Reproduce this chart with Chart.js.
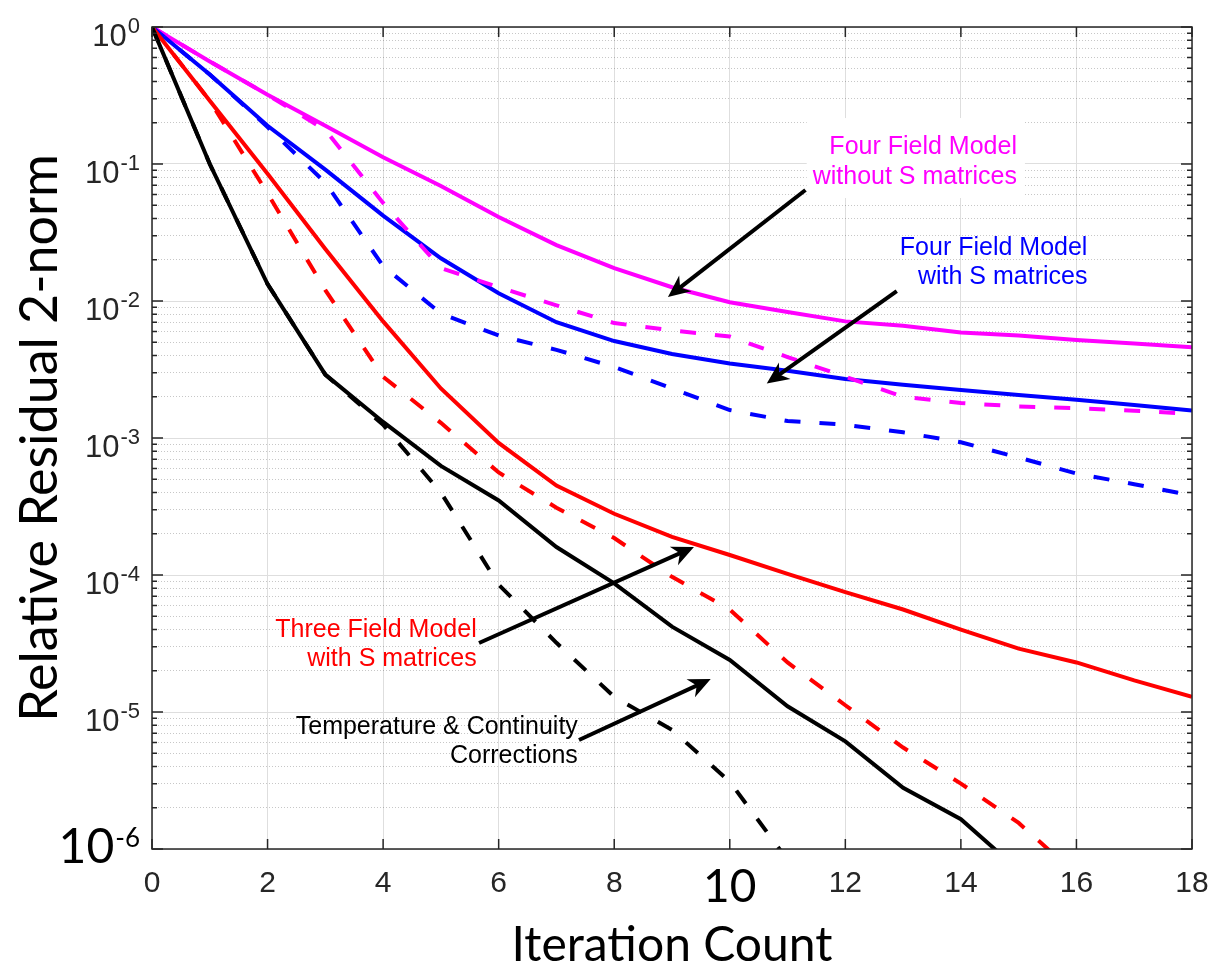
<!DOCTYPE html>
<html lang="en">
<head>
<meta charset="UTF-8">
<title>Relative Residual 2-norm vs Iteration Count</title>
<script src="https://cdn.jsdelivr.net/npm/chart.js"></script>
<style>
  html, body { margin: 0; padding: 0; background: #fff; }
</style>
</head>
<body>
<canvas id="residualChart" width="1222" height="970"></canvas>
<script>
// iteration axis
const iterations = [0, 1, 2, 3, 4, 5, 6, 7, 8, 9, 10, 11, 12, 13, 14, 15, 16, 17, 18];

// Four Field Model without S matrices (magenta)
const fourNoS       = [1, 0.56, 0.32, 0.19, 0.112, 0.069, 0.041, 0.0256, 0.0174, 0.0126, 0.0098, 0.0083, 0.0071, 0.0066, 0.0059, 0.0056, 0.0052, 0.0049, 0.0046];
const fourNoSDashed = [1, 0.56, 0.32, 0.177, 0.052, 0.0174, 0.0126, 0.0093, 0.0069, 0.0061, 0.0055, 0.0039, 0.0028, 0.0020, 0.0018, 0.0017, 0.00165, 0.00158, 0.0015];

// Four Field Model with S matrices (blue)
const fourS         = [1, 0.45, 0.19, 0.091, 0.042, 0.0205, 0.0114, 0.0070, 0.0051, 0.0041, 0.0035, 0.0031, 0.0027, 0.00245, 0.00224, 0.00206, 0.0019, 0.00174, 0.00159];
const fourSDashed   = [1, 0.45, 0.186, 0.073, 0.018, 0.0081, 0.0056, 0.0044, 0.0033, 0.0023, 0.0016, 0.00133, 0.00125, 0.0011, 0.00093, 0.00072, 0.00055, 0.00046, 0.00038];

// Three Field Model with S matrices (red)
const threeS        = [1, 0.29, 0.085, 0.024, 0.0071, 0.0023, 0.00092, 0.00045, 0.00028, 0.00019, 0.00014, 0.000102, 0.000075, 0.000056, 0.00004, 0.000029, 0.000023, 0.000017, 0.0000129];
const threeSDashed  = [1, 0.29, 0.061, 0.012, 0.0028, 0.00129, 0.00056, 0.00031, 0.000186, 0.000097, 0.000056, 0.000023, 0.0000112, 0.0000055, 0.000003, 0.00000155, 0.00000065, null, null];

// Temperature & Continuity Corrections (black)
const tempCont       = [1, 0.1, 0.0133, 0.0029, 0.00131, 0.000625, 0.00035, 0.00016, 0.000087, 0.000042, 0.000024, 0.000011, 0.0000061, 0.0000028, 0.00000165, 0.0000007, null, null, null];
const tempContDashed = [1, 0.1, 0.0133, 0.0029, 0.00125, 0.0004, 0.000085, 0.000032, 0.0000129, 0.0000074, 0.0000031, 0.00000083, null, null, null, null, null, null, null];

// axis ticks
const decadeTicks = [1, 1e-1, 1e-2, 1e-3, 1e-4, 1e-5, 1e-6];
const decadeExponents = ['0', '-1', '-2', '-3', '-4', '-5', '-6'];
const minorMultipliers = [2, 3, 4, 5, 6, 7, 8, 9];
const xTicks = [0, 2, 4, 6, 8, 10, 12, 14, 16, 18];
const xBigTick = 10;   // this label is set larger in the source figure

const minorTicks = [];
decadeTicks.slice(1).forEach(d => minorMultipliers.forEach(m => minorTicks.push(m * d)));

// text labels and arrows, in data coordinates
const notes = [
  { lines: ['Four Field Model', 'without S matrices'], color: '#ff00ff', x: 14.97, y: [0.133, 0.0804], backing: true },
  { lines: ['Four Field Model', 'with S matrices'], color: '#0000ff', x: 16.19, y: [0.0244, 0.015] },
  { lines: ['Three Field Model', 'with S matrices'], color: '#ff0000', x: 5.62, y: [3.97e-5, 2.44e-5] },
  { lines: ['Temperature & Continuity', 'Corrections'], color: '#000000', x: 7.37, y: [7.78e-6, 4.78e-6] }
];
const arrows = [
  { from: [11.31, 0.0646], to: [8.93, 0.0107] },
  { from: [12.89, 0.0118], to: [10.64, 0.0025] },
  { from: [5.66, 3.19e-5], to: [9.38, 1.6e-4] },
  { from: [7.39, 6.25e-6], to: [9.67, 1.74e-5] }
];

function series(label, values, color, dashed) {
  return {
    label: label,
    data: iterations.map((t, i) => ({ x: t, y: values[i] })),
    borderColor: color,
    borderWidth: 4,
    borderDash: dashed ? [16, 19] : [],
    pointRadius: 0,
    fill: false,
    tension: 0
  };
}

const axisColor = '#262626';
const noteFont = '25px "Liberation Sans", Arial, sans-serif';

function drawArrow(ctx, x0, y0, x1, y1) {
  const ang = Math.atan2(y1 - y0, x1 - x0);
  const c = Math.cos(ang), s = Math.sin(ang);
  const headLen = 22, headW = 10;
  ctx.beginPath();
  ctx.moveTo(x0, y0);
  ctx.lineTo(x1 - headLen * 0.6 * c, y1 - headLen * 0.6 * s);
  ctx.stroke();
  const bx = x1 - headLen * c, by = y1 - headLen * s;
  ctx.beginPath();
  ctx.moveTo(x1, y1);
  ctx.lineTo(bx - s * headW, by + c * headW);
  ctx.lineTo(x1 - headLen * 0.7 * c, y1 - headLen * 0.7 * s);
  ctx.lineTo(bx + s * headW, by - c * headW);
  ctx.closePath();
  ctx.fill();
}

const decorations = {
  id: 'decorations',
  beforeDatasetsDraw(chart) {
    const { ctx, scales } = chart;
    ctx.save();
    ctx.font = noteFont;
    notes.filter(n => n.backing).forEach(n => {
      const xr = scales.x.getPixelForValue(n.x);
      const w = Math.max(...n.lines.map(l => ctx.measureText(l).width));
      const top = scales.y.getPixelForValue(n.y[0]) - 29;
      const bottom = scales.y.getPixelForValue(n.y[1]) + 21;
      ctx.fillStyle = '#fff';
      ctx.fillRect(xr - w - 6, top, w + 14, bottom - top);
    });
    ctx.restore();
  },
  afterDatasetsDraw(chart) {
    const { ctx, chartArea: a, scales } = chart;
    const xs = scales.x, ys = scales.y;
    ctx.save();

    // axis box
    ctx.strokeStyle = axisColor;
    ctx.lineWidth = 1.5;
    ctx.strokeRect(a.left, a.top, a.right - a.left, a.bottom - a.top);

    // inward tick marks
    ctx.beginPath();
    xTicks.forEach(v => {
      const px = xs.getPixelForValue(v);
      ctx.moveTo(px, a.bottom); ctx.lineTo(px, a.bottom - 10);
      ctx.moveTo(px, a.top); ctx.lineTo(px, a.top + 10);
    });
    decadeTicks.forEach(v => {
      const py = ys.getPixelForValue(v);
      ctx.moveTo(a.left, py); ctx.lineTo(a.left + 11, py);
      ctx.moveTo(a.right, py); ctx.lineTo(a.right - 11, py);
    });
    minorTicks.forEach(v => {
      const py = ys.getPixelForValue(v);
      ctx.moveTo(a.left, py); ctx.lineTo(a.left + 5, py);
      ctx.moveTo(a.right, py); ctx.lineTo(a.right - 5, py);
    });
    ctx.stroke();

    // y tick labels with superscript exponents
    decadeTicks.forEach((v, i) => {
      const py = ys.getPixelForValue(v);
      const big = i === decadeTicks.length - 1;
      const baseFont = big ? '48px Lato, sans-serif' : '31px "Liberation Sans", Arial, sans-serif';
      const supFont = big ? '26px Lato, sans-serif' : '22px "Liberation Sans", Arial, sans-serif';
      ctx.fillStyle = big ? '#000' : axisColor;
      ctx.textAlign = 'left';
      ctx.textBaseline = 'alphabetic';
      ctx.font = supFont;
      const supW = ctx.measureText(decadeExponents[i]).width;
      ctx.font = baseFont;
      const baseW = ctx.measureText('10').width;
      const right = a.left - 12;
      ctx.fillText('10', right - supW - baseW - 1, py + (big ? 14 : 19));
      ctx.font = supFont;
      ctx.fillText(decadeExponents[i], right - supW, py + (big ? -2 : 6));
    });

    // the enlarged x tick label
    ctx.font = '46px Lato, sans-serif';
    ctx.fillStyle = '#000';
    ctx.textAlign = 'center';
    ctx.textBaseline = 'alphabetic';
    ctx.fillText(String(xBigTick), xs.getPixelForValue(xBigTick), a.bottom + 53);

    // notes
    ctx.font = noteFont;
    ctx.textAlign = 'right';
    ctx.textBaseline = 'middle';
    notes.forEach(n => {
      ctx.fillStyle = n.color;
      n.lines.forEach((l, k) => ctx.fillText(l, xs.getPixelForValue(n.x), ys.getPixelForValue(n.y[k])));
    });

    // arrows
    ctx.strokeStyle = '#000';
    ctx.fillStyle = '#000';
    ctx.lineWidth = 4;
    arrows.forEach(ar => {
      drawArrow(ctx,
        xs.getPixelForValue(ar.from[0]), ys.getPixelForValue(ar.from[1]),
        xs.getPixelForValue(ar.to[0]), ys.getPixelForValue(ar.to[1]));
    });
    ctx.restore();
  }
};

const ctxResidual = document.getElementById('residualChart').getContext('2d');
new Chart(ctxResidual, {
  type: 'line',
  data: {
    datasets: [
      series('Temperature & Continuity (dashed)', tempContDashed, '#000000', true),
      series('Three Field with S (dashed)', threeSDashed, '#ff0000', true),
      series('Four Field with S (dashed)', fourSDashed, '#0000ff', true),
      series('Four Field without S (dashed)', fourNoSDashed, '#ff00ff', true),
      series('Temperature & Continuity', tempCont, '#000000', false),
      series('Three Field with S', threeS, '#ff0000', false),
      series('Four Field with S', fourS, '#0000ff', false),
      series('Four Field without S', fourNoS, '#ff00ff', false)
    ]
  },
  options: {
    responsive: false,
    animation: false,
    devicePixelRatio: 1,
    layout: { padding: { top: 27, right: 30, bottom: 0, left: 0 } },
    plugins: {
      legend: { display: false },
      tooltip: { enabled: false }
    },
    scales: {
      x: {
        type: 'linear',
        min: 0,
        max: 18,
        afterBuildTicks: s => { s.ticks = xTicks.map(v => ({ value: v })); },
        afterFit: s => { s.height = 121; s.paddingLeft = 0; s.paddingRight = 0; },
        ticks: {
          padding: 17,
          maxRotation: 0,
          autoSkip: false,
          color: axisColor,
          font: { family: 'Liberation Sans', size: 30 },
          callback: v => (v === xBigTick ? '' : String(v))
        },
        grid: { color: '#dedede', lineWidth: 1, drawTicks: false },
        border: { display: false },
        title: {
          display: true,
          text: 'Itera\u200Ction Count',
          color: '#000',
          font: { family: 'Lato', size: 48, lineHeight: 1 },
          padding: { top: 0, bottom: 0 }
        }
      },
      y: {
        type: 'logarithmic',
        position: 'left',
        min: 1e-6,
        max: 1,
        afterBuildTicks: s => { s.ticks = decadeTicks.map(v => ({ value: v })); },
        afterFit: s => { s.width = 152; s.paddingTop = 0; s.paddingBottom = 0; },
        ticks: { display: false },
        grid: { color: '#dedede', lineWidth: 1, drawTicks: false },
        border: { display: false },
        title: {
          display: true,
          text: 'Relative Residual 2-norm',
          color: '#000',
          font: { family: 'Lato', size: 52, lineHeight: 1 },
          padding: { top: 14, bottom: 0 }
        }
      },
      yMinor: {
        type: 'logarithmic',
        position: 'right',
        min: 1e-6,
        max: 1,
        afterBuildTicks: s => { s.ticks = minorTicks.map(v => ({ value: v })); },
        afterFit: s => { s.width = 0; s.paddingTop = 0; s.paddingBottom = 0; },
        ticks: { display: false },
        grid: { color: 'rgba(0,0,0,0.22)', lineWidth: 1, drawTicks: false },
        border: { display: false, dash: [1, 2] }
      }
    }
  },
  plugins: [decorations]
});
</script>
</body>
</html>
